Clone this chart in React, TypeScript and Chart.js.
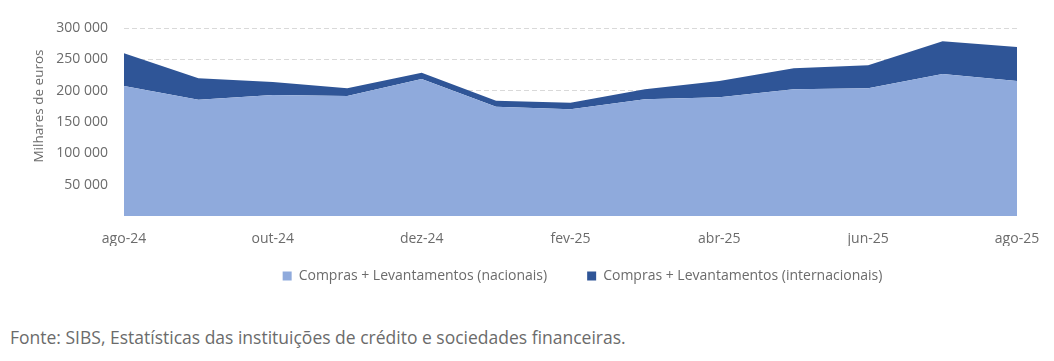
import React, { useEffect, useRef } from "react";
import { Chart, registerables } from "chart.js";

Chart.register(...registerables);

const months = ["ago-24", "set-24", "out-24", "nov-24", "dez-24", "jan-25", "fev-25", "mar-25", "abr-25", "mai-25", "jun-25", "jul-25", "ago-25"];
const nacionais = [207500, 185600, 193000, 191500, 218600, 174400, 170200, 186200, 189400, 202200, 203800, 226600, 215400];
const internacionais = [52200, 34100, 20800, 12300, 10100, 9600, 10600, 16000, 26000, 33500, 36700, 52200, 54300];
const seriesNames = ["Compras + Levantamentos (nacionais)", "Compras + Levantamentos (internacionais)"];
const yTicks = [0, 50000, 100000, 150000, 200000, 250000, 300000];
const yTitle = "Milhares de euros";
const source = "Fonte: SIBS, Estatísticas das instituições de crédito e sociedades financeiras.";

const FONT = "'Open Sans', 'Noto Sans', sans-serif";
const TEXT = "#6b6b6b";

const fmt = (v: number) => (v === 0 ? "" : String(v).replace(/\B(?=(\d{3})+(?!\d))/g, " "));

export default function App() {
  const ref = useRef<HTMLCanvasElement | null>(null);

  useEffect(() => {
    document.body.style.margin = "0";
    const titlePlugin = {
      id: "yTitle",
      afterDraw(chart: any) {
        const ctx = chart.ctx;
        ctx.save();
        ctx.translate(39, 106);
        ctx.rotate(-Math.PI / 2);
        ctx.font = `13.5px ${FONT}`;
        ctx.fillStyle = TEXT;
        ctx.textAlign = "center";
        ctx.textBaseline = "middle";
        ctx.fillText(yTitle, 0, 0);
        ctx.restore();
      },
    };
    const legendShift = {
      id: "legendShift",
      afterLayout(chart: any) {
        const lg = chart.legend;
        if (!lg) return;
        lg.top -= 17;
        lg.bottom -= 17;
        lg.left += 12;
        lg.right += 12;
      },
    };
    const chart = new Chart(ref.current!, {
      type: "line",
      data: {
        labels: months,
        datasets: [
          {
            label: seriesNames[0],
            data: nacionais,
            backgroundColor: "#8faadc",
            borderColor: "#8faadc",
            borderWidth: 0,
            pointRadius: 0,
            fill: "origin",
            tension: 0,
          },
          {
            label: seriesNames[1],
            data: internacionais,
            backgroundColor: "#2f5597",
            borderColor: "#2f5597",
            borderWidth: 0,
            pointRadius: 0,
            fill: "-1",
            tension: 0,
          },
        ],
      },
      options: {
        animation: false,
        responsive: false,
        maintainAspectRatio: false,
        layout: { padding: { left: 0, right: 37, top: 28, bottom: 0 } },
        plugins: {
          legend: {
            position: "bottom",
            fullSize: false,
            labels: {
              boxWidth: 9,
              boxHeight: 9,
              padding: 40,
              color: TEXT,
              font: { family: FONT, size: 14 },
            },
          },
          tooltip: { enabled: false },
        },
        scales: {
          x: {
            offset: false,
            grid: { display: false },
            border: { display: false },
            ticks: {
              autoSkip: false,
              maxRotation: 0,
              padding: 7,
              color: TEXT,
              font: { family: FONT, size: 14 },
              callback: (_v: any, i: number) => (i % 2 === 0 ? months[i] : ""),
            },
            afterFit: (s: any) => {
              s.height = 30;
            },
          },
          y: {
            stacked: true,
            min: yTicks[0],
            max: yTicks[yTicks.length - 1],
            afterBuildTicks: (s: any) => {
              s.ticks = yTicks.map((v) => ({ value: v }));
            },
            grid: {
              color: (c: any) => (c.tick && c.tick.value === 0 ? "rgba(0,0,0,0)" : "#d9d9d9"),
              drawTicks: false,
              lineWidth: 1,
            },
            border: { display: false, dash: [5, 3] },
            ticks: {
              padding: 16,
              color: TEXT,
              font: { family: FONT, size: 14 },
              callback: (v: any) => fmt(Number(v)),
            },
            afterFit: (s: any) => {
              s.width = 124;
            },
          },
        },
      },
      plugins: [titlePlugin, legendShift],
    } as any);
    return () => chart.destroy();
  }, []);

  return (
    <div style={{ position: "relative", width: 1054, height: 361, background: "#fff" }}>
      <canvas ref={ref} width={1054} height={310} style={{ display: "block" }} />
      <div
        style={{
          position: "absolute",
          left: 10,
          top: 325,
          lineHeight: "24px",
          fontSize: 17.5,
          fontFamily: FONT,
          color: "#6b6b6b",
          whiteSpace: "nowrap",
        }}
      >
        {source}
      </div>
    </div>
  );
}
